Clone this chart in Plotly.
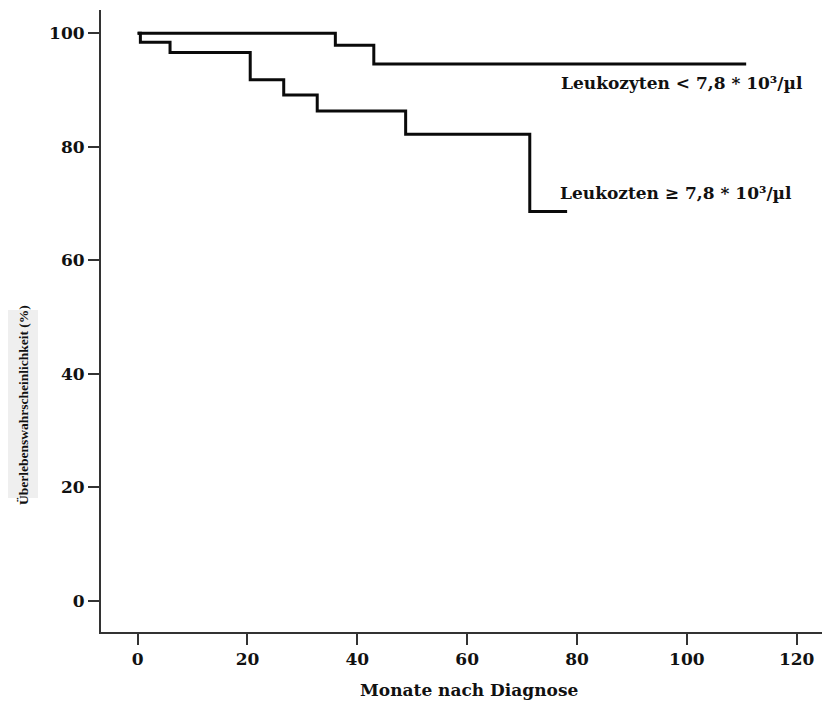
import plotly.graph_objects as go

# Data (Kaplan-Meier steps)
low_months = [0, 36, 43, 110.8]
low_surv = [100, 97.9, 94.6, 94.6]

high_months = [0, 0.5, 5.9, 20.5, 26.6, 32.7, 48.8, 71.4, 78.2]
high_surv = [100, 98.4, 96.6, 91.8, 89.1, 86.3, 82.2, 68.6, 68.6]

x_ticks = [0, 20, 40, 60, 80, 100, 120]
y_ticks = [0, 20, 40, 60, 80, 100]

label_low = "Leukozyten < 7,8 * 10³/µl"
label_high = "Leukozten ≥ 7,8 * 10³/µl"
x_title = "Monate nach Diagnose"
y_title = "Überlebenswahrscheinlichkeit (%)"

FONT = "DejaVu Serif"
FONT_Y = "Liberation Serif"
INK = "#111111"

fig = go.Figure()
fig.add_trace(go.Scatter(x=low_months, y=low_surv, mode="lines", line_shape="hv",
                         line=dict(color="#0a0a0a", width=3), showlegend=False))
fig.add_trace(go.Scatter(x=high_months, y=high_surv, mode="lines", line_shape="hv",
                         line=dict(color="#0a0a0a", width=3), showlegend=False))

fig.add_annotation(x=76.8, y=91.2, text="<b>" + label_low + "</b>", showarrow=False,
                   xanchor="left", yanchor="middle",
                   font=dict(family=FONT, size=17, color=INK))
fig.add_annotation(x=76.6, y=71.9, text="<b>" + label_high + "</b>", showarrow=False,
                   xanchor="left", yanchor="middle",
                   font=dict(family=FONT, size=17, color=INK))

# grey box behind the y title
fig.add_shape(type="rect", xref="paper", yref="paper",
              x0=(5 - 101) / 727, x1=(38 - 101) / 727,
              y0=(632 - 498) / 622, y1=(632 - 310) / 622,
              fillcolor="#efefef", line=dict(width=0), layer="below")
fig.add_annotation(xref="paper", yref="paper", x=(23 - 101) / 727, y=(632 - 405) / 622,
                   text="<b>" + y_title + "</b>", textangle=-90,
                   showarrow=False, xanchor="center", yanchor="middle",
                   font=dict(family=FONT_Y, size=13.5, color=INK))
fig.add_annotation(xref="paper", yref="paper", x=(469 - 101) / 727, y=(632 - 690) / 622,
                   text="<b>" + x_title + "</b>",
                   showarrow=False, xanchor="center", yanchor="middle",
                   font=dict(family=FONT, size=17, color=INK))

# page body has an 8px margin, so the figure is sized/positioned to compensate
fig.update_layout(
    width=822, height=701,
    margin=dict(l=93, r=2, t=2, b=77),
    plot_bgcolor="white", paper_bgcolor="white",
    font=dict(family=FONT, color=INK),
    xaxis=dict(range=[-6.67, 125.7], tickvals=x_ticks, ticktext=[f"<b>{v}</b>" for v in x_ticks],
               automargin=False,
               showgrid=False, zeroline=False, showline=True, linecolor="#333333", linewidth=2,
               ticks="outside", ticklen=11, tickwidth=2, tickcolor="#333333",
               tickfont=dict(family=FONT, size=17, color=INK)),
    yaxis=dict(range=[-5.51, 104.1], tickvals=y_ticks, ticktext=[f"<b>{v}</b>" for v in y_ticks],
               automargin=False,
               showgrid=False, zeroline=False, showline=True, linecolor="#333333", linewidth=2,
               ticks="outside", ticklen=11, tickwidth=2, tickcolor="#333333",
               tickfont=dict(family=FONT, size=17, color=INK)),
)

fig.write_html("out.html")
